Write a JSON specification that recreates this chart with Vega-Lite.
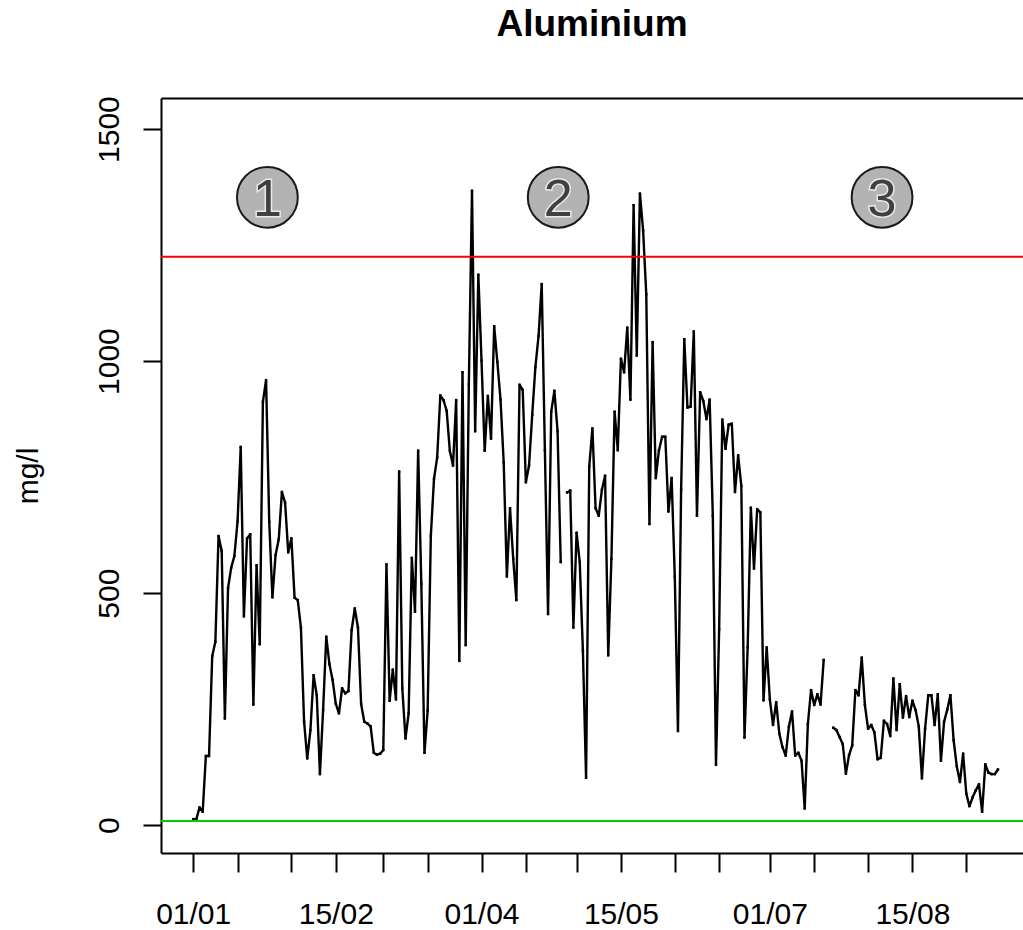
{
"$schema": "https://vega.github.io/schema/vega-lite/v6.json",
"width": 862, "height": 755,
"autosize": {"type": "none"},
"padding": {"left": 161, "top": 98, "right": 0, "bottom": 77},
"background": "white",
"config": {"view": {"stroke": null}, "font": "Liberation Sans"},
"title": {"text": "Aluminium", "fontSize": 37, "fontWeight": "bold", "font": "Liberation Sans", "anchor": "middle", "baseline": "alphabetic", "offset": 23, "color": "black"},
"datasets": {
"al": [
{"d":"2012/01/01","v":13},{"d":"2012/01/02","v":13},{"d":"2012/01/03","v":38},{"d":"2012/01/04","v":29},{"d":"2012/01/05","v":149},{"d":"2012/01/06","v":149},{"d":"2012/01/07","v":364},{"d":"2012/01/08","v":395},{"d":"2012/01/09","v":623},{"d":"2012/01/10","v":591},{"d":"2012/01/11","v":230},{"d":"2012/01/12","v":511},{"d":"2012/01/13","v":555},{"d":"2012/01/14","v":580},{"d":"2012/01/15","v":654},{"d":"2012/01/16","v":815},{"d":"2012/01/17","v":450},{"d":"2012/01/18","v":618},{"d":"2012/01/19","v":627},{"d":"2012/01/20","v":260},{"d":"2012/01/21","v":560},{"d":"2012/01/22","v":390},{"d":"2012/01/23","v":912},{"d":"2012/01/24","v":959},{"d":"2012/01/25","v":654},{"d":"2012/01/26","v":491},{"d":"2012/01/27","v":582},{"d":"2012/01/28","v":616},{"d":"2012/01/29","v":718},{"d":"2012/01/30","v":695},{"d":"2012/01/31","v":588},
{"d":"2012/02/01","v":618},{"d":"2012/02/02","v":490},{"d":"2012/02/03","v":485},{"d":"2012/02/04","v":426},{"d":"2012/02/05","v":223},{"d":"2012/02/06","v":144},{"d":"2012/02/07","v":205},{"d":"2012/02/08","v":323},{"d":"2012/02/09","v":280},{"d":"2012/02/10","v":110},{"d":"2012/02/11","v":248},{"d":"2012/02/12","v":406},{"d":"2012/02/13","v":347},{"d":"2012/02/14","v":313},{"d":"2012/02/15","v":262},{"d":"2012/02/16","v":241},{"d":"2012/02/17","v":295},{"d":"2012/02/18","v":284},{"d":"2012/02/19","v":289},{"d":"2012/02/20","v":420},{"d":"2012/02/21","v":467},{"d":"2012/02/22","v":426},{"d":"2012/02/23","v":261},{"d":"2012/02/24","v":223},{"d":"2012/02/25","v":219},{"d":"2012/02/26","v":213},{"d":"2012/02/27","v":156},{"d":"2012/02/28","v":152},{"d":"2012/02/29","v":154},
{"d":"2012/03/01","v":162},{"d":"2012/03/02","v":562},{"d":"2012/03/03","v":268},{"d":"2012/03/04","v":335},{"d":"2012/03/05","v":271},{"d":"2012/03/06","v":762},{"d":"2012/03/07","v":295},{"d":"2012/03/08","v":187},{"d":"2012/03/09","v":241},{"d":"2012/03/10","v":576},{"d":"2012/03/11","v":460},{"d":"2012/03/12","v":807},{"d":"2012/03/13","v":520},{"d":"2012/03/14","v":156},{"d":"2012/03/15","v":247},{"d":"2012/03/16","v":623},{"d":"2012/03/17","v":746},{"d":"2012/03/18","v":792},{"d":"2012/03/19","v":926},{"d":"2012/03/20","v":916},{"d":"2012/03/21","v":893},{"d":"2012/03/22","v":807},{"d":"2012/03/23","v":775},{"d":"2012/03/24","v":916},{"d":"2012/03/25","v":354},{"d":"2012/03/26","v":976},{"d":"2012/03/27","v":388},{"d":"2012/03/28","v":950},{"d":"2012/03/29","v":1367},{"d":"2012/03/30","v":849},{"d":"2012/03/31","v":1186},
{"d":"2012/04/01","v":1001},{"d":"2012/04/02","v":807},{"d":"2012/04/03","v":925},{"d":"2012/04/04","v":833},{"d":"2012/04/05","v":1075},{"d":"2012/04/06","v":998},{"d":"2012/04/07","v":917},{"d":"2012/04/08","v":782},{"d":"2012/04/09","v":536},{"d":"2012/04/10","v":683},{"d":"2012/04/11","v":574},{"d":"2012/04/12","v":485},{"d":"2012/04/13","v":949},{"d":"2012/04/14","v":938},{"d":"2012/04/15","v":739},{"d":"2012/04/16","v":775},{"d":"2012/04/17","v":884},{"d":"2012/04/18","v":987},{"d":"2012/04/19","v":1054},{"d":"2012/04/20","v":1166},{"d":"2012/04/21","v":808},{"d":"2012/04/22","v":455},{"d":"2012/04/23","v":891},{"d":"2012/04/24","v":936},{"d":"2012/04/25","v":849},{"d":"2012/04/26","v":567},{"d":"2012/04/27","v":null},{"d":"2012/04/28","v":717},{"d":"2012/04/29","v":721},{"d":"2012/04/30","v":426},
{"d":"2012/05/01","v":630},{"d":"2012/05/02","v":567},{"d":"2012/05/03","v":375},{"d":"2012/05/04","v":102},{"d":"2012/05/05","v":773},{"d":"2012/05/06","v":855},{"d":"2012/05/07","v":683},{"d":"2012/05/08","v":667},{"d":"2012/05/09","v":723},{"d":"2012/05/10","v":753},{"d":"2012/05/11","v":366},{"d":"2012/05/12","v":574},{"d":"2012/05/13","v":891},{"d":"2012/05/14","v":808},{"d":"2012/05/15","v":1005},{"d":"2012/05/16","v":976},{"d":"2012/05/17","v":1072},{"d":"2012/05/18","v":917},{"d":"2012/05/19","v":1336},{"d":"2012/05/20","v":1012},{"d":"2012/05/21","v":1361},{"d":"2012/05/22","v":1282},{"d":"2012/05/23","v":1144},{"d":"2012/05/24","v":649},{"d":"2012/05/25","v":1041},{"d":"2012/05/26","v":748},{"d":"2012/05/27","v":808},{"d":"2012/05/28","v":837},{"d":"2012/05/29","v":837},{"d":"2012/05/30","v":676},{"d":"2012/05/31","v":748},
{"d":"2012/06/01","v":536},{"d":"2012/06/02","v":203},{"d":"2012/06/03","v":723},{"d":"2012/06/04","v":1047},{"d":"2012/06/05","v":900},{"d":"2012/06/06","v":902},{"d":"2012/06/07","v":1064},{"d":"2012/06/08","v":667},{"d":"2012/06/09","v":933},{"d":"2012/06/10","v":914},{"d":"2012/06/11","v":875},{"d":"2012/06/12","v":917},{"d":"2012/06/13","v":667},{"d":"2012/06/14","v":130},{"d":"2012/06/15","v":422},{"d":"2012/06/16","v":874},{"d":"2012/06/17","v":811},{"d":"2012/06/18","v":863},{"d":"2012/06/19","v":865},{"d":"2012/06/20","v":718},{"d":"2012/06/21","v":797},{"d":"2012/06/22","v":731},{"d":"2012/06/23","v":189},{"d":"2012/06/24","v":383},{"d":"2012/06/25","v":684},{"d":"2012/06/26","v":553},{"d":"2012/06/27","v":681},{"d":"2012/06/28","v":674},{"d":"2012/06/29","v":269},{"d":"2012/06/30","v":383},
{"d":"2012/07/01","v":271},{"d":"2012/07/02","v":216},{"d":"2012/07/03","v":265},{"d":"2012/07/04","v":197},{"d":"2012/07/05","v":168},{"d":"2012/07/06","v":150},{"d":"2012/07/07","v":212},{"d":"2012/07/08","v":245},{"d":"2012/07/09","v":150},{"d":"2012/07/10","v":156},{"d":"2012/07/11","v":139},{"d":"2012/07/12","v":36},{"d":"2012/07/13","v":218},{"d":"2012/07/14","v":291},{"d":"2012/07/15","v":259},{"d":"2012/07/16","v":282},{"d":"2012/07/17","v":260},{"d":"2012/07/18","v":356},{"d":"2012/07/19","v":null},{"d":"2012/07/20","v":null},{"d":"2012/07/21","v":210},{"d":"2012/07/22","v":205},{"d":"2012/07/23","v":190},{"d":"2012/07/24","v":175},{"d":"2012/07/25","v":111},{"d":"2012/07/26","v":151},{"d":"2012/07/27","v":172},{"d":"2012/07/28","v":291},{"d":"2012/07/29","v":280},{"d":"2012/07/30","v":361},{"d":"2012/07/31","v":259},
{"d":"2012/08/01","v":208},{"d":"2012/08/02","v":216},{"d":"2012/08/03","v":200},{"d":"2012/08/04","v":142},{"d":"2012/08/05","v":145},{"d":"2012/08/06","v":225},{"d":"2012/08/07","v":218},{"d":"2012/08/08","v":192},{"d":"2012/08/09","v":316},{"d":"2012/08/10","v":205},{"d":"2012/08/11","v":304},{"d":"2012/08/12","v":232},{"d":"2012/08/13","v":278},{"d":"2012/08/14","v":233},{"d":"2012/08/15","v":268},{"d":"2012/08/16","v":248},{"d":"2012/08/17","v":213},{"d":"2012/08/18","v":101},{"d":"2012/08/19","v":208},{"d":"2012/08/20","v":280},{"d":"2012/08/21","v":280},{"d":"2012/08/22","v":216},{"d":"2012/08/23","v":282},{"d":"2012/08/24","v":139},{"d":"2012/08/25","v":223},{"d":"2012/08/26","v":249},{"d":"2012/08/27","v":280},{"d":"2012/08/28","v":183},{"d":"2012/08/29","v":127},{"d":"2012/08/30","v":93},{"d":"2012/08/31","v":154},
{"d":"2012/09/01","v":68},{"d":"2012/09/02","v":41},{"d":"2012/09/03","v":60},{"d":"2012/09/04","v":75},{"d":"2012/09/05","v":88},{"d":"2012/09/06","v":29},{"d":"2012/09/07","v":131},{"d":"2012/09/08","v":113},{"d":"2012/09/09","v":110},{"d":"2012/09/10","v":110},{"d":"2012/09/11","v":120}
],
"refs": [{"v": 1225, "c": "#ff0000"}, {"v": 9, "c": "#00cd00"}],
"marks": [{"d": "2012/01/24 10:00", "v": 1353, "n": "1"}, {"d": "2012/04/25 05:00", "v": 1353, "n": "2"}, {"d": "2012/08/05 10:00", "v": 1353, "n": "3"}]
},
"layer": [
{
"data": {"name": "al"},
"mark": {"type": "line", "color": "black", "strokeWidth": 2.4, "strokeJoin": "round", "strokeCap": "round", "invalid": "break-paths-filter-domains"},
"encoding": {
"x": {"field": "d", "type": "temporal",
"scale": {"domain": [{"year": 2011, "month": 12, "date": 21, "hours": 20, "minutes": 10}, {"year": 2012, "month": 9, "date": 18, "hours": 21, "minutes": 36}]},
"axis": {"orient": "bottom", "values": [{"year":2012,"month":1,"date":1},{"year":2012,"month":1,"date":15},{"year":2012,"month":2,"date":1},{"year":2012,"month":2,"date":15},{"year":2012,"month":3,"date":1},{"year":2012,"month":3,"date":15},{"year":2012,"month":4,"date":1},{"year":2012,"month":4,"date":15},{"year":2012,"month":5,"date":1},{"year":2012,"month":5,"date":15},{"year":2012,"month":6,"date":1},{"year":2012,"month":6,"date":15},{"year":2012,"month":7,"date":1},{"year":2012,"month":7,"date":15},{"year":2012,"month":8,"date":1},{"year":2012,"month":8,"date":15},{"year":2012,"month":9,"date":1}],
"format": "%d/%m", "labelExpr": "indexof('01/01 15/02 01/04 15/05 01/07 15/08', datum.label) >= 0 ? datum.label : ''",
"tickSize": 19, "tickWidth": 2, "tickColor": "black", "domainColor": "black", "domainWidth": 2,
"labelFontSize": 30, "labelFont": "Liberation Sans", "labelColor": "black", "labelPadding": 27, "labelBaseline": "top",
"labelOverlap": false, "labelFlush": false, "grid": false, "title": null}},
"y": {"field": "v", "type": "quantitative",
"scale": {"domain": [-60, 1567], "nice": false, "zero": false},
"axis": {"orient": "left", "values": [0, 500, 1000, 1500], "format": "d", "tickSize": 18, "tickWidth": 2, "tickColor": "black", "domainColor": "black", "domainWidth": 2,
"labelFontSize": 30, "labelFont": "Liberation Sans", "labelColor": "black", "labelAngle": -90, "labelAlign": "center", "labelBaseline": "alphabetic", "labelPadding": 25,
"labelOverlap": false, "labelFlush": false, "grid": false,
"title": "mg/l", "titleFont": "Liberation Sans", "titleFontSize": 30, "titleFontWeight": "normal", "titleColor": "black", "titleAngle": -90, "titleX": -124, "titleY": 377.5, "titleAlign": "center", "titleBaseline": "alphabetic"}}
}
},
{
"data": {"name": "al"},
"mark": {"type": "point", "shape": "square", "filled": true, "color": "black", "size": 6, "opacity": 1},
"encoding": {
"x": {"field": "d", "type": "temporal", "axis": null},
"y": {"field": "v", "type": "quantitative"}
}
},
{
"data": {"name": "refs"},
"mark": {"type": "rule", "strokeWidth": 2},
"encoding": {
"y": {"field": "v", "type": "quantitative"},
"color": {"field": "c", "type": "nominal", "scale": null}
}
},
{
"data": {"name": "marks"},
"mark": {"type": "point", "shape": "circle", "filled": true, "size": 3700, "fill": "#b3b3b3", "stroke": "#1a1a1a", "strokeWidth": 2, "opacity": 1},
"encoding": {
"x": {"field": "d", "type": "temporal", "axis": {"orient": "top", "ticks": false, "labels": false, "domain": true, "domainColor": "black", "domainWidth": 2, "grid": false, "title": null}},
"y": {"field": "v", "type": "quantitative"}
}
},
{
"data": {"name": "marks"},
"mark": {"type": "text", "font": "Liberation Sans", "fontSize": 52, "fill": "#e8e8e8", "stroke": "#e8e8e8", "strokeWidth": 3, "align": "center", "baseline": "alphabetic", "dy": 19},
"encoding": {
"x": {"field": "d", "type": "temporal", "axis": null},
"y": {"field": "v", "type": "quantitative"},
"text": {"field": "n"}
}
},
{
"data": {"name": "marks"},
"mark": {"type": "text", "font": "Liberation Sans", "fontSize": 52, "fill": "#404040", "align": "center", "baseline": "alphabetic", "dy": 19},
"encoding": {
"x": {"field": "d", "type": "temporal", "axis": null},
"y": {"field": "v", "type": "quantitative"},
"text": {"field": "n"}
}
}
],
"resolve": {"axis": {"x": "independent"}}
}
